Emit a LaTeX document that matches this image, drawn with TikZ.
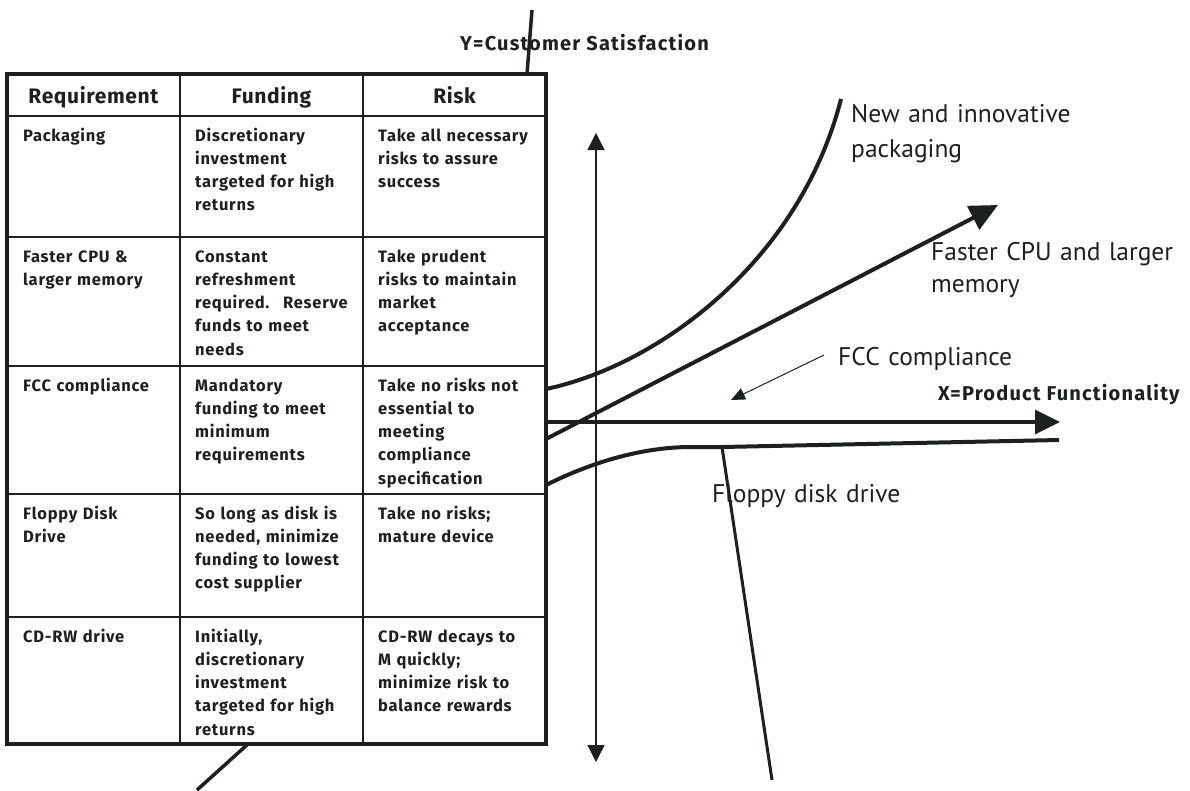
\documentclass[tikz,border=0pt]{standalone}
\usepackage{fontspec}
\setmainfont{PT Sans}
\newfontfamily\cellfam[LetterSpace=4.5]{Fira Sans}
\newfontfamily\hdrfam[LetterSpace=3]{Fira Sans}
\newfontfamily\axisfam[LetterSpace=6]{Fira Sans}
\usetikzlibrary{arrows.meta}
\definecolor{ink}{RGB}{28,32,32}
\begin{document}
\begin{tikzpicture}[x=1pt,y=-1pt,
  every node/.style={text=ink, inner sep=0pt},
  cell/.style={anchor=base west, text width=175pt, align=left, font=\cellfam\bfseries\fontsize{16.5}{23.3}\selectfont},
  hdr/.style={anchor=base, font=\hdrfam\bfseries\fontsize{21}{23}\selectfont},
  axislbl/.style={font=\axisfam\bfseries\fontsize{20}{22}\selectfont},
  lbl/.style={anchor=base west, text width=280pt, align=left, font=\fontsize{25.5}{35}\selectfont},
  frame/.style={draw=ink, line width=4pt},
  rule/.style={draw=ink, line width=1.6pt},
  curve/.style={draw=ink, line width=4pt},
  axisline/.style={draw=ink, line width=3.5pt},
  thinarrow/.style={draw=ink, line width=1.2pt},
]
\useasboundingbox (0,0) rectangle (1190,790);

% ---------- coordinates ----------
\coordinate (tl) at (7,74);
\coordinate (br) at (546,744);
\coordinate (ytop) at (532,10);
\coordinate (ytab) at (527,74);
\coordinate (ybot1) at (248,744);
\coordinate (ybot2) at (197,790);

% ---------- axis label Y ----------
\node[axislbl, anchor=base east] (ylabel) at (709,50) {Y=Customer Satisfaction};
\draw[axisline] (ytop) -- (ytab);
\draw[axisline] (ybot1) -- (ybot2);

% ---------- table ----------
\draw[rule] (180,74) -- (180,744);
\draw[rule] (363,74) -- (363,744);
\foreach \yy in {116,237,366,494,617} \draw[rule] (7,\yy) -- (546,\yy);
\draw[frame] (tl) rectangle (br);

\node[hdr] (h1) at (93.5,103) {Requirement};
\node[hdr] (h2) at (271.5,103) {Funding};
\node[hdr] (h3) at (454.5,103) {Risk};

\node[cell] (r1a) at (23,141) {Packaging};
\node[cell] (r1b) at (195,141) {Discretionary\\investment\\targeted for high\\returns};
\node[cell] (r1c) at (378,141) {Take all necessary\\risks to assure\\success};

\node[cell] (r2a) at (23,262) {Faster CPU \&\\larger memory};
\node[cell] (r2b) at (195,262) {Constant\\refreshment\\required.~ Reserve\\funds to meet\\needs};
\node[cell] (r2c) at (378,262) {Take prudent\\risks to maintain\\market\\acceptance};

\node[cell] (r3a) at (23,391) {FCC compliance};
\node[cell] (r3b) at (195,391) {Mandatory\\funding to meet\\minimum\\requirements};
\node[cell] (r3c) at (378,391) {Take no risks not\\essential to\\meeting\\compliance\\specification};

\node[cell] (r4a) at (23,519) {Floppy Disk\\Drive};
\node[cell] (r4b) at (195,519) {So long as disk is\\needed, minimize\\funding to lowest\\cost supplier};
\node[cell] (r4c) at (378,519) {Take no risks;\\mature device};

\node[cell] (r5a) at (23,642) {CD-RW drive};
\node[cell] (r5b) at (195,642) {Initially,\\discretionary\\investment\\targeted for high\\returns};
\node[cell] (r5c) at (378,642) {CD-RW decays to\\M quickly;\\minimize risk to\\balance rewards};

% ---------- chart coordinates ----------
\coordinate (vtop) at (596,133);
\coordinate (vbot) at (596,762);
\coordinate (xs) at (546,422);
\coordinate (xe) at (1060,422);
\coordinate (ps) at (546,389);
\coordinate (pe) at (841,99);
\coordinate (cs) at (546,439);
\coordinate (ce) at (998,205);
\coordinate (fs) at (546,485);
\coordinate (f1) at (691,447);
\coordinate (fk) at (722,447);
\coordinate (fe) at (1059,440);
\coordinate (fp) at (772,780);
\coordinate (fccs) at (824,355);
\coordinate (fcce) at (731,400);

% ---------- chart ----------
\draw[thinarrow, {Triangle[length=17pt,width=17pt]}-{Triangle[length=17pt,width=17pt]}] (vtop) -- (vbot);
\draw[axisline, -{Triangle[length=25pt,width=24pt]}] (xs) -- (xe);
\draw[curve] (ps) .. controls (660,365) and (800,260) .. (pe);
\draw[curve, -{Triangle[length=28pt,width=26pt]}] (cs) -- (ce);
\draw[curve] (fs) .. controls (600,458) and (650,447) .. (f1) -- (fk) -- (fe);
\draw[draw=ink, line width=3pt] (fk) -- (fp);
\draw[draw=ink, line width=1pt, -{Triangle[length=14pt,width=12pt]}] (fccs) -- (fcce);

% ---------- labels ----------
\node[lbl] (lpack) at (851,122) {New and innovative\\packaging};
\node[lbl, font=\fontsize{25.5}{32}\selectfont] (lcpu) at (931,260) {Faster CPU and larger\\memory};
\node[lbl] (lfcc) at (838,365) {FCC compliance};
\node[axislbl, anchor=base west] (xlabel) at (938,400) {X=Product Functionality};
\node[lbl] (lflop) at (712,502) {Floppy disk drive};
\end{tikzpicture}
\end{document}
